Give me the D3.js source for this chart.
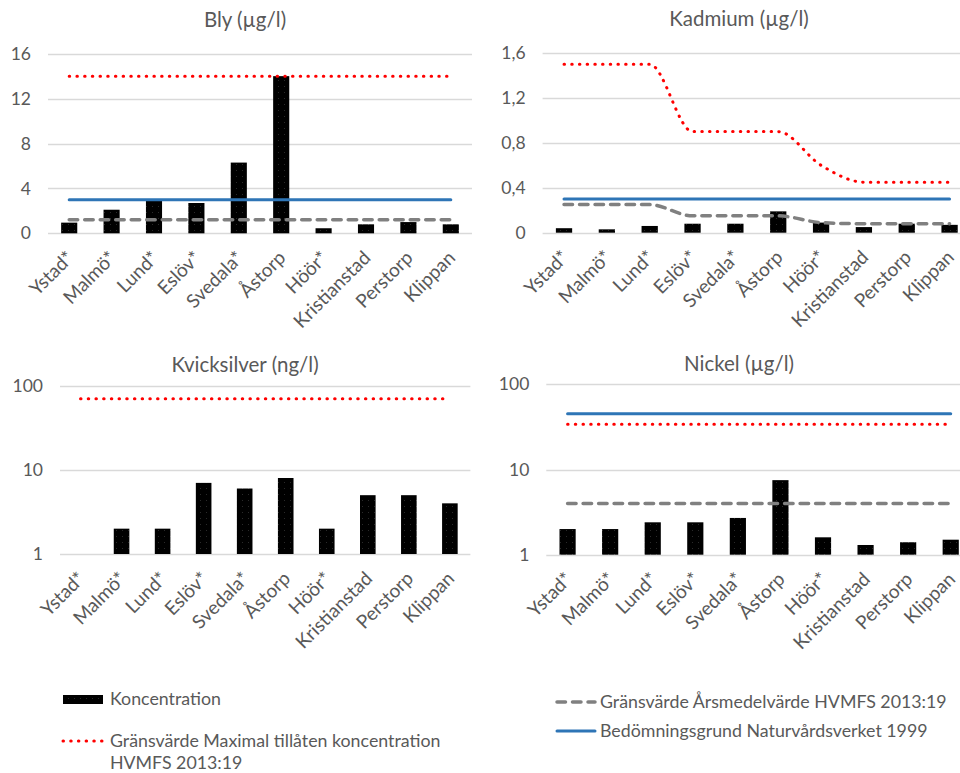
<!DOCTYPE html>
<html>
<head>
<meta charset="utf-8">
<script src="https://cdn.jsdelivr.net/npm/d3@7"></script>
<style>
  body { margin: 0; background: #fff; }
  text { font-family: Lato, "Open Sans", sans-serif; fill: #595959; }
</style>
</head>
<body>
<svg width="960" height="773"></svg>
<script>
var categories = ["Ystad*", "Malmö*", "Lund*", "Eslöv*", "Svedala*", "Åstorp", "Höör*", "Kristianstad", "Perstorp", "Klippan"];

// Bly (µg/l)
var blyKonc = [0.95, 2.1, 3.0, 2.7, 6.3, 14, 0.45, 0.8, 1.0, 0.8];
var blyMax  = [14, 14, 14, 14, 14, 14, 14, 14, 14, 14];
var blyArs  = [1.2, 1.2, 1.2, 1.2, 1.2, 1.2, 1.2, 1.2, 1.2, 1.2];
var blyBed  = [3, 3, 3, 3, 3, 3, 3, 3, 3, 3];
var blyTicks = [0, 4, 8, 12, 16];

// Kadmium (µg/l)
var kadKonc = [0.04, 0.03, 0.06, 0.08, 0.08, 0.19, 0.09, 0.05, 0.08, 0.07];
var kadMax  = [1.5, 1.5, 1.5, 0.9, 0.9, 0.9, 0.6, 0.45, 0.45, 0.45];
var kadArs  = [0.25, 0.25, 0.25, 0.15, 0.15, 0.15, 0.09, 0.08, 0.08, 0.08];
var kadBed  = [0.3, 0.3, 0.3, 0.3, 0.3, 0.3, 0.3, 0.3, 0.3, 0.3];
var kadTicks = [0, 0.4, 0.8, 1.2, 1.6];

// Kvicksilver (ng/l)
var hgKonc = [null, 2, 2, 7, 6, 8, 2, 5, 5, 4];
var hgMax  = [70, 70, 70, 70, 70, 70, 70, 70, 70, 70];
var logTicks = [1, 10, 100];

// Nickel (µg/l)
var niKonc = [2, 2, 2.4, 2.4, 2.7, 7.5, 1.6, 1.3, 1.4, 1.5];
var niMax  = [34, 34, 34, 34, 34, 34, 34, 34, 34, 34];
var niArs  = [4, 4, 4, 4, 4, 4, 4, 4, 4, 4];
var niBed  = [45, 45, 45, 45, 45, 45, 45, 45, 45, 45];

var svg = d3.select("svg");

// bar fill with faint dots, like the original
var pat = svg.append("defs").append("pattern")
    .attr("id", "dots").attr("width", 6).attr("height", 6)
    .attr("patternUnits", "userSpaceOnUse");
pat.append("rect").attr("width", 6).attr("height", 6).attr("fill", "#000");
pat.append("rect").attr("x", 2).attr("y", 2).attr("width", 1).attr("height", 1).attr("fill", "#2a2a2a");

var commaFmt = function(d) { return d === 0 ? "0" : d3.format(".1f")(d).replace(".", ","); };

var panels = [
  { title: "Bly (µg/l)", tx: 245, ty: 27, x0: 48, x1: 472, y0: 233.3, y1: 53.7,
    log: false, domain: [0, 16], ticks: blyTicks, fmt: d3.format("d"),
    konc: blyKonc, max: blyMax, ars: blyArs, bed: blyBed },
  { title: "Kadmium (µg/l)", tx: 739, ty: 26, x0: 542.6, x1: 971, y0: 232.7, y1: 53,
    log: false, domain: [0, 1.6], ticks: kadTicks, fmt: commaFmt,
    konc: kadKonc, max: kadMax, ars: kadArs, bed: kadBed },
  { title: "Kvicksilver (ng/l)", tx: 245, ty: 372, x0: 60, x1: 470.4, y0: 554, y1: 385.7,
    log: true, domain: [1, 100], ticks: logTicks, fmt: d3.format("d"),
    konc: hgKonc, max: hgMax, ars: null, bed: null },
  { title: "Nickel (µg/l)", tx: 739, ty: 371, x0: 546.3, x1: 972, y0: 554.7, y1: 384.3,
    log: true, domain: [1, 100], ticks: logTicks, fmt: d3.format("d"),
    konc: niKonc, max: niMax, ars: niArs, bed: niBed }
];

panels.forEach(function(p) {
  var g = svg.append("g");

  var x = d3.scaleBand().domain(categories).range([p.x0, p.x1]).paddingInner(0.62).paddingOuter(0.31);
  var y = (p.log ? d3.scaleLog() : d3.scaleLinear()).domain(p.domain).range([p.y0, p.y1]);
  var cx = function(i) { return x(categories[i]) + x.bandwidth() / 2; };

  g.append("text")
      .attr("x", p.tx).attr("y", p.ty)
      .attr("text-anchor", "middle")
      .style("font-size", "20.5px")
      .text(p.title);

  // gridlines
  g.append("g").selectAll("line")
    .data(p.ticks)
    .enter().append("line")
      .attr("x1", p.x0).attr("x2", p.x1)
      .attr("y1", function(d) { return Math.round(y(d)) + 0.5; })
      .attr("y2", function(d) { return Math.round(y(d)) + 0.5; })
      .attr("stroke", "#d9d9d9").attr("stroke-width", 1.3);

  // y axis labels
  var yAxis = d3.axisLeft(y).tickValues(p.ticks).tickFormat(p.fmt).tickSize(0).tickPadding(17);
  var ya = g.append("g").attr("transform", "translate(" + p.x0 + ",0)").call(yAxis);
  ya.select(".domain").remove();
  ya.selectAll("text").style("font-size", "17.5px").attr("fill", "#595959").attr("font-family", null);

  // bars
  g.append("g").selectAll("rect")
    .data(p.konc.map(function(v, i) { return { v: v, c: categories[i] }; }).filter(function(d) { return d.v != null; }))
    .enter().append("rect")
      .attr("x", function(d) { return x(d.c); })
      .attr("width", x.bandwidth())
      .attr("y", function(d) { return y(d.v); })
      .attr("height", function(d) { return p.y0 - y(d.v); })
      .attr("fill", "url(#dots)");

  var line = d3.line()
      .x(function(d, i) { return cx(i); })
      .y(function(d) { return y(d); })
      .curve(d3.curveMonotoneX);

  if (p.ars) {
    g.append("path").attr("d", line(p.ars))
      .attr("fill", "none").attr("stroke", "#808080").attr("stroke-width", 3.5)
      .attr("stroke-linecap", "round").attr("stroke-dasharray", "8.5 7");
  }
  if (p.bed) {
    g.append("path").attr("d", line(p.bed))
      .attr("fill", "none").attr("stroke", "#2e75b6").attr("stroke-width", 3)
      .attr("stroke-linecap", "round");
  }
  g.append("path").attr("d", line(p.max))
    .attr("fill", "none").attr("stroke", "#ff0000").attr("stroke-width", 3)
    .attr("stroke-linecap", "round").attr("stroke-dasharray", "0.5 7.2");

  // category labels, rotated
  g.append("g").selectAll("text")
    .data(categories)
    .enter().append("text")
      .attr("transform", function(d, i) { return "translate(" + (cx(i) + 1) + "," + (p.y0 + 21) + ") rotate(-45)"; })
      .attr("text-anchor", "end")
      .attr("dy", "0.35em")
      .style("font-size", "19px")
      .text(function(d) { return d; });
});

// legend
var leg = svg.append("g").style("font-size", "17.8px");

leg.append("rect").attr("x", 63).attr("y", 695).attr("width", 40).attr("height", 9).attr("fill", "url(#dots)");
leg.append("text").attr("x", 110).attr("y", 699).attr("dy", "0.35em").text("Koncentration");

leg.append("line").attr("x1", 63).attr("x2", 103).attr("y1", 741).attr("y2", 741)
  .attr("stroke", "#ff0000").attr("stroke-width", 3).attr("stroke-linecap", "round").attr("stroke-dasharray", "0.5 7.2");
leg.append("text").attr("x", 110).attr("y", 741).attr("dy", "0.35em").text("Gränsvärde Maximal tillåten koncentration");
leg.append("text").attr("x", 110).attr("y", 763).attr("dy", "0.35em").text("HVMFS 2013:19");

leg.append("line").attr("x1", 557).attr("x2", 595).attr("y1", 702).attr("y2", 702)
  .attr("stroke", "#808080").attr("stroke-width", 3.5).attr("stroke-linecap", "round").attr("stroke-dasharray", "8.5 7");
leg.append("text").attr("x", 600).attr("y", 702).attr("dy", "0.35em").text("Gränsvärde Årsmedelvärde HVMFS 2013:19");

leg.append("line").attr("x1", 557).attr("x2", 595).attr("y1", 731).attr("y2", 731)
  .attr("stroke", "#2e75b6").attr("stroke-width", 3).attr("stroke-linecap", "round");
leg.append("text").attr("x", 600).attr("y", 731).attr("dy", "0.35em").text("Bedömningsgrund Naturvårdsverket 1999");
</script>
</body>
</html>
